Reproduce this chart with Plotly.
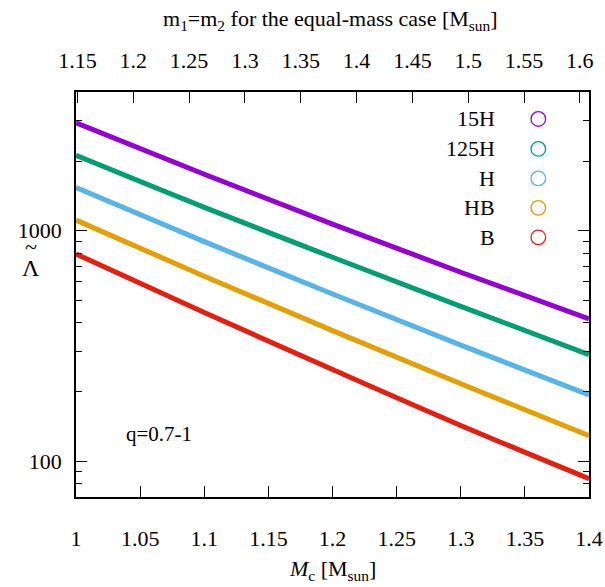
import plotly.graph_objects as go
import numpy as np

# ---- data ----
mc = [1.0, 1.1, 1.2, 1.3, 1.4]
eos_names = ["15H", "125H", "H", "HB", "B"]
lam_15H = [2938, 1758, 1069, 661, 415]
lam_125H = [2124, 1264, 768, 470, 290]
lam_H = [1539, 897, 532, 319, 194]
lam_HB = [1112, 635, 369, 217, 129]
lam_B = [793, 442, 250, 143, 84]
colors = ["#9400D3", "#009E73", "#56B4E9", "#E69F00", "#E51E10"]

x_ticks = [1, 1.05, 1.1, 1.15, 1.2, 1.25, 1.3, 1.35, 1.4]
x_ticklabels = ["1", "1.05", "1.1", "1.15", "1.2", "1.25", "1.3", "1.35", "1.4"]
top_ticks = [1.15, 1.2, 1.25, 1.3, 1.35, 1.4, 1.45, 1.5, 1.55, 1.6]
top_ticklabels = ["1.15", "1.2", "1.25", "1.3", "1.35", "1.4", "1.45", "1.5", "1.55", "1.6"]
y_ticks = [100, 1000]
y_ticklabels = ["100", "1000"]
y_minor = [70, 80, 90, 200, 300, 400, 500, 600, 700, 800, 900, 2000, 3000, 4000]

series = [lam_15H, lam_125H, lam_H, lam_HB, lam_B]

FONT = "Liberation Serif"
FS = 22

fig = go.Figure()
for name, vals, col in zip(eos_names, series, colors):
    fig.add_trace(go.Scatter(x=mc, y=vals, mode="lines", name=name,
                             line=dict(color=col, width=5, shape="spline"),
                             showlegend=False))

# invisible trace for top axis
fac = 2 ** 0.2
fig.add_trace(go.Scatter(x=[1 * fac, 1.4 * fac], y=[None, None], xaxis="x2",
                         mode="lines", showlegend=False, hoverinfo="skip"))

W, H = 605, 587
L, R, T, B = 76, 16, 92, 89.5
pw, ph = W - L - R, H - T - B


def px(xp):
    return (xp - L) / pw


def py(yp):
    return 1 - (yp - T) / ph


fig.update_layout(
    width=W, height=H, autosize=False,
    margin=dict(l=L, r=R, t=T, b=B, pad=0, autoexpand=False),
    paper_bgcolor="white", plot_bgcolor="white",
    showlegend=False,
    font=dict(family=FONT, size=FS, color="black"),
    xaxis=dict(range=[1, 1.4], tickvals=x_ticks, ticktext=x_ticklabels,
               ticks="inside", ticklen=11, tickwidth=1, tickcolor="black",
               showline=True, linecolor="black", linewidth=1.5, mirror=True,
               showgrid=False, zeroline=False, ticklabelstandoff=21, automargin=False),
    xaxis2=dict(range=[1 * fac, 1.4 * fac], overlaying="x", side="top", anchor="y",
                tickvals=top_ticks, ticktext=top_ticklabels,
                ticks="inside", ticklen=11, tickwidth=1, tickcolor="black",
                showline=False, showgrid=False, zeroline=False, ticklabelstandoff=19,
                automargin=False),
    yaxis=dict(type="log", range=[np.log10(70), np.log10(4000)],
               tickvals=y_ticks, ticktext=y_ticklabels,
               ticks="inside", ticklen=11, tickwidth=1, tickcolor="black",
               minor=dict(tickvals=y_minor, ticks="inside", ticklen=6,
                          tickcolor="black", tickwidth=1, showgrid=False),
               showline=True, linecolor="black", linewidth=1.5, mirror="ticks",
               showgrid=False, zeroline=False, ticklabelstandoff=8, automargin=False),
)

# legend drawn as right-aligned labels with open-circle keys
leg_y = [119, 149, 178.5, 208, 237.5]
for name, col, yp in zip(eos_names, colors, leg_y):
    yc = py(yp)
    fig.add_annotation(x=px(497), y=yc, xref="paper", yref="paper",
                       text=name, showarrow=False, xanchor="right", yanchor="middle",
                       font=dict(family=FONT, size=FS))
    cx = px(538.3)
    rx, ry = 7.3 / pw, 7.3 / ph
    fig.add_shape(type="circle", xref="paper", yref="paper",
                  x0=cx - rx, x1=cx + rx, y0=yc - ry, y1=yc + ry,
                  line=dict(color=col, width=1.3))

# axis titles
fig.add_annotation(x=px(330), y=py(20), xref="paper", yref="paper",
                   text="m<sub>1</sub>=m<sub>2</sub> for the equal-mass case [M<sub>sun</sub>]",
                   showarrow=False, xanchor="center", yanchor="middle",
                   font=dict(family=FONT, size=FS))
fig.add_annotation(x=px(332), y=py(571), xref="paper", yref="paper",
                   text="<i>M</i><sub>c</sub> [M<sub>sun</sub>]",
                   showarrow=False, xanchor="center", yanchor="middle",
                   font=dict(family=FONT, size=FS))
fig.add_annotation(x=px(31), y=py(268), xref="paper", yref="paper",
                   text="Λ", showarrow=False, xanchor="center", yanchor="middle",
                   font=dict(family=FONT, size=FS + 2))
fig.add_annotation(x=px(31), y=py(247), xref="paper", yref="paper",
                   text="~", showarrow=False, xanchor="center", yanchor="middle",
                   font=dict(family=FONT, size=FS))
fig.add_annotation(x=px(159), y=py(434), xref="paper", yref="paper",
                   text="q=0.7-1", showarrow=False, xanchor="center", yanchor="middle",
                   font=dict(family=FONT, size=FS - 1))

fig.write_html("out.html", config={"displayModeBar": False},
               post_script="document.body.style.margin='0';document.body.style.overflow='hidden';")
